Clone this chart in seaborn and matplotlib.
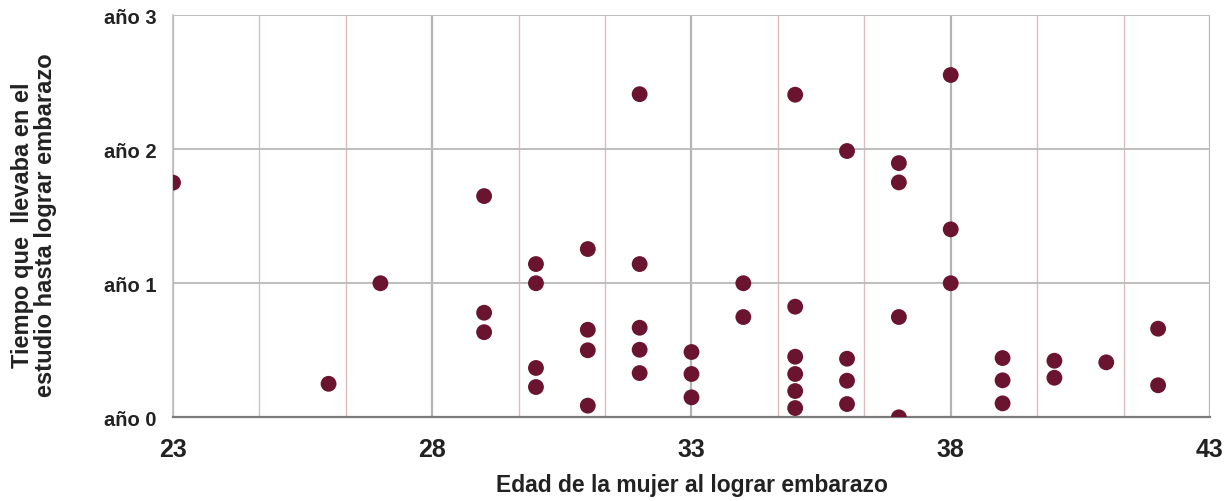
import numpy as np
import pandas as pd
import seaborn as sns
import matplotlib
matplotlib.use('Agg')
from matplotlib import pyplot as plt

# Edad de la mujer y tiempo (años) en el estudio hasta lograr embarazo
edad = [23, 26, 27,
        29, 29, 29,
        30, 30, 30, 30,
        31, 31, 31, 31,
        32, 32, 32, 32, 32,
        33, 33, 33,
        34, 34,
        35, 35, 35, 35, 35, 35,
        36, 36, 36, 36,
        37, 37, 37, 37,
        38, 38, 38,
        39, 39, 39,
        40, 40,
        41,
        42, 42]
tiempo = [1.75, 0.25, 1.0,
          1.65, 0.78, 0.635,
          1.143, 1.0, 0.368, 0.226,
          1.255, 0.653, 0.50, 0.087,
          2.41, 1.143, 0.668, 0.504, 0.33,
          0.487, 0.323, 0.149,
          1.0, 0.748,
          2.406, 0.825, 0.452, 0.323, 0.196, 0.069,
          1.986, 0.437, 0.273, 0.099,
          1.896, 1.752, 0.748, 0.0,
          2.553, 1.402, 1.0,
          0.442, 0.276, 0.104,
          0.422, 0.295,
          0.41,
          0.661, 0.239]

x_ticks = [23, 28, 33, 38, 43]
y_ticks = [0, 1, 2, 3]
y_labels = ["año 0", "año 1", "año 2", "año 3"]

df = pd.DataFrame({"edad": edad, "tiempo": tiempo})

sns.set_style("white")
plt.rcParams['font.family'] = ['Liberation Sans', 'DejaVu Sans']

fig = plt.figure(figsize=(12.28, 5.02), dpi=100)
ax = fig.add_axes([0.1409, 0.1667, 0.8444, 0.8013])

# rejilla: mayores grises, menores (tercios) rosadas
minor = [v for v in np.arange(23, 43.01, 5 / 3) if min(abs(v - t) for t in x_ticks) > 0.1]
for v in minor:
    ax.axvline(v, color="#dcbcbc", lw=1.0, zorder=0)
for v in x_ticks:
    ax.axvline(v, color="#b4b4b4", lw=1.6, zorder=0)
for v in y_ticks[1:]:
    ax.axhline(v, color="#bdbdbd", lw=1.4, zorder=0)

sns.scatterplot(data=df, x="edad", y="tiempo", ax=ax, color="#6b1430",
                s=130, edgecolor="none", zorder=3)

ax.set_xlim(23, 43)
ax.set_ylim(0, 3)
ax.set_xticks(x_ticks)
ax.set_yticks(y_ticks)
ax.set_yticklabels(y_labels)

for s in ["top", "right"]:
    ax.spines[s].set_visible(False)
ax.spines["left"].set_color("#bdbdbd")
ax.spines["left"].set_linewidth(1.2)
ax.spines["bottom"].set_color("#7a7a7a")
ax.spines["bottom"].set_linewidth(1.6)

ax.tick_params(axis="x", length=6, width=1.2, color="#9a9a9a", pad=8,
               labelsize=18, labelcolor="#222222")
ax.tick_params(axis="y", length=5, width=1.0, color="#9a9a9a", pad=7,
               labelsize=14.5, labelcolor="#222222")
for lab in ax.get_xticklabels() + ax.get_yticklabels():
    lab.set_fontweight("bold")

ax.set_xlabel("Edad de la mujer al lograr embarazo", fontsize=16.5, fontweight="bold",
              color="#222222", labelpad=9)
ax.set_ylabel("Tiempo que  llevaba en el\nestudio hasta lograr embarazo", fontsize=17,
              fontweight="bold", color="#222222", linespacing=1.0)
ax.yaxis.set_label_coords(-0.112, 0.479)

fig.savefig("out.png", dpi=100)
